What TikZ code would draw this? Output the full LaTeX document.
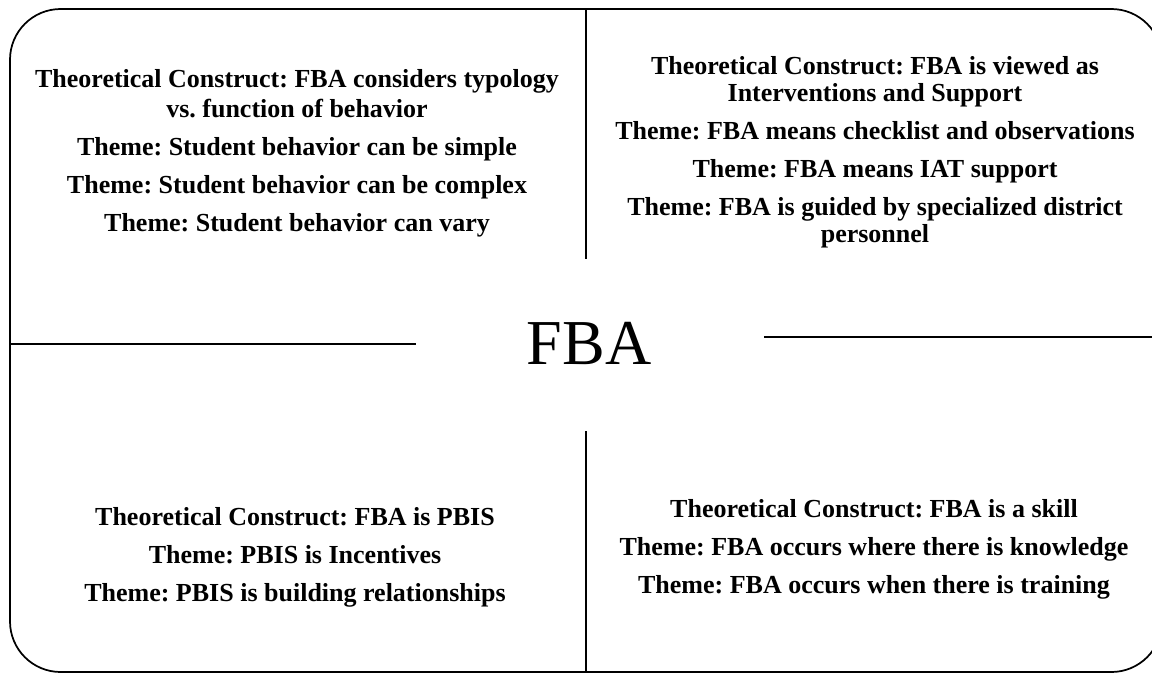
\documentclass[tikz,border=0pt]{standalone}
\usepackage{fontspec}
\setmainfont{Liberation Serif}
\usetikzlibrary{calc}
\frenchspacing
\tikzset{
  quad/.style={font=\bfseries\fontsize{19.5}{23}\selectfont, inner sep=0pt, anchor=base},
  hub/.style={font=\fontsize{48}{56}\selectfont, inner sep=0pt},
  frame/.style={black, line width=1.3pt}
}

\begin{document}
\begin{tikzpicture}[x=0.75pt,y=-0.75pt]
\useasboundingbox (0,0) rectangle (1152,676);
\begin{scope}
\clip (0,0) rectangle (1152,676);
\draw[frame, rounded corners=38pt] (10,9) rectangle (1162,672);
\end{scope}
% dividing lines
\coordinate (topmid) at (586,9);
\coordinate (topend) at (586,259);
\coordinate (botmid) at (586,431);
\coordinate (botend) at (586,672);
\coordinate (leftin) at (10,344);
\coordinate (leftend) at (416,344);
\coordinate (rightin) at (764,337);
\coordinate (rightend) at (1152,337);
\draw[frame] (topmid)--(topend);
\draw[frame] (botmid)--(botend);
\draw[frame] (leftin)--(leftend);
\draw[frame] (rightin)--(rightend);

\node[hub] (fba) at (589,343) {FBA};

% upper left
\foreach \yy/\txt [count=\i] in {
  87/{Theoretical Construct: FBA considers typology},
  117/{vs. function of behavior},
  155/{Theme: Student behavior can be simple},
  193/{Theme: Student behavior can be complex},
  231/{Theme: Student behavior can vary}} {
 \node[quad] (ul\i) at (297,\yy) {\txt};
}
% upper right
\foreach \yy/\txt [count=\i] in {
  74/{Theoretical Construct: FBA is viewed as},
  101/{Interventions and Support},
  139/{Theme: FBA means checklist and observations},
  177/{Theme: FBA means IAT support},
  215/{Theme: FBA is guided by specialized district},
  242/{personnel}} {
 \node[quad] (ur\i) at (875,\yy) {\txt};
}
% lower left
\foreach \yy/\txt [count=\i] in {
  525/{Theoretical Construct: FBA is PBIS},
  563/{Theme: PBIS is Incentives},
  601/{Theme: PBIS is building relationships}} {
 \node[quad] (ll\i) at (295,\yy) {\txt};
}
% lower right
\foreach \yy/\txt [count=\i] in {
  517/{Theoretical Construct: FBA is a skill},
  555/{Theme: FBA occurs where there is knowledge},
  593/{Theme: FBA occurs when there is training}} {
 \node[quad] (lr\i) at (874,\yy) {\txt};
}
\end{tikzpicture}
\end{document}
